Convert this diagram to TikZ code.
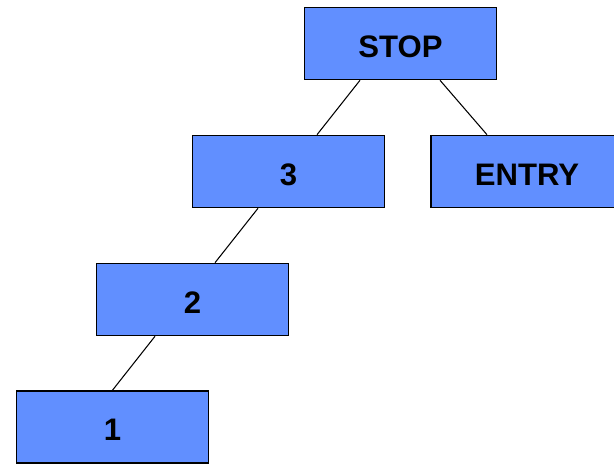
\documentclass[tikz,border=0pt]{standalone}
\usepackage{fontspec}
\setmainfont{Liberation Sans}
\usepackage{tikz}
\usetikzlibrary{calc,positioning}
\definecolor{boxblue}{RGB}{97,143,255}
\tikzset{%
	block/.style = {draw, rectangle, fill=boxblue, line width=0.9pt, minimum width=3.84cm, minimum height=1.44cm, text centered, text height=15.5pt, text depth=0pt, font=\fontsize{17.7}{20}\selectfont\bfseries},
	link/.style  = {line width=0.6pt},
}

\begin{document}
\begin{tikzpicture}
	\useasboundingbox (0,0) rectangle (12.28,9.28);
	\clip (0,0) rectangle (12.28,9.28);
	
	\node[block] (stop) at (8.01,8.41) {STOP};
	\node[block] (b3) at (5.77,5.85) {3};
	\node[block] (entry) at (10.54,5.85) {ENTRY};
	\node[block] (b2) at (3.85,3.29) {2};
	\node[block] (b1) at (2.25,0.74) {1};
	
	\draw[link] ([xshift=-0.81cm]stop.south) -- ([xshift=0.57cm]b3.north);
	\draw[link] ([xshift=0.79cm]stop.south) -- ([xshift=-0.8cm]entry.north);
	\draw[link] ([xshift=-0.61cm]b3.south) -- ([xshift=0.45cm]b2.north);
	\draw[link] ([xshift=-0.75cm]b2.south) -- (b1.north);
\end{tikzpicture}
\end{document}
